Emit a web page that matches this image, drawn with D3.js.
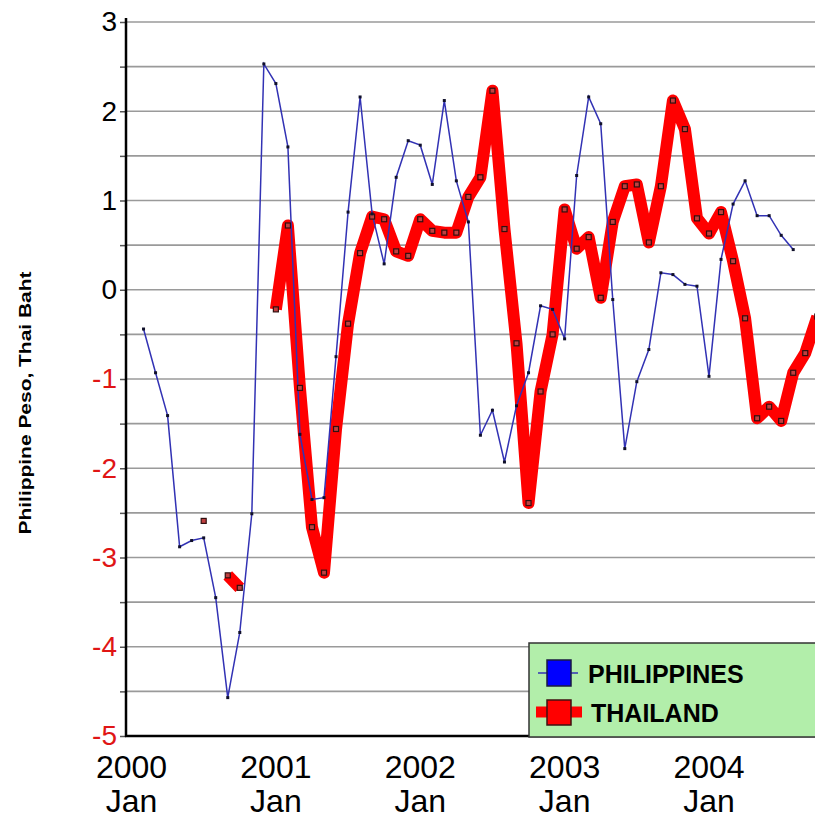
<!DOCTYPE html>
<html>
    <head>
        <meta charset="utf-8">
        <title>Philippine Peso, Thai Baht</title>
        <script src="https://d3js.org/d3.v7.min.js"></script>
        <style>
            body { margin: 0; background: #fff; }
            svg { display: block; font-family: 'Liberation Sans', Arial, sans-serif; }
        </style>
    </head>
    <body>
        <script type='text/javascript'>
            var w = 815;
            var h = 820;

            // months counted from 2000 Jan (index 0)
            var philippines = [null, -0.44, -0.93, -1.41, -2.88, -2.81, -2.78, -3.45, -4.57, -3.84,
                -2.51, 2.53, 2.31, 1.60, -1.62, -2.35, -2.33, -0.75, 0.87, 2.16,
                0.85, 0.29, 1.26, 1.67, 1.62, 1.18, 2.12, 1.22, 0.76, -1.63,
                -1.35, -1.93, -1.30, -0.93, -0.18, -0.22, -0.55, 1.28, 2.16, 1.86,
                -0.11, -1.78, -1.03, -0.67, 0.19, 0.17, 0.06, 0.04, -0.97, 0.34,
                0.96, 1.22, 0.83, 0.83, 0.61, 0.45, null, null];

            var thailand = [null, null, null, null, null, null, -2.59, null, -3.20, -3.34,
                null, null, -0.22, 0.72, -1.10, -2.66, -3.17, -1.56, -0.38, 0.41,
                0.82, 0.79, 0.43, 0.38, 0.79, 0.66, 0.64, 0.64, 1.04, 1.26,
                2.23, 0.68, -0.60, -2.39, -1.14, -0.50, 0.90, 0.46, 0.59, -0.09,
                0.76, 1.16, 1.18, 0.53, 1.16, 2.12, 1.80, 0.80, 0.63, 0.87,
                0.32, -0.32, -1.44, -1.31, -1.47, -0.93, -0.71, -0.30];

            var xTickMonths = [0, 12, 24, 36, 48];
            var xTickYears = ['2000', '2001', '2002', '2003', '2004'];
            var seriesNames = ['PHILIPPINES', 'THAILAND'];

            var plotLeft = 126, plotTop = 22, plotBottom = 736;

            //Create scales
            var xScale = d3.scaleLinear()
                            .domain([0, 48])
                            .range([131.5, 709]);

            var yScale = d3.scaleLinear()
                            .domain([-5, 3])
                            .range([plotBottom, plotTop]);

            var svg = d3.select('body')
                        .append('svg')
                        .attr('width', w)
                        .attr('height', h);

            // grid lines every half unit
            svg.append('g')
                .selectAll('line')
                .data(d3.range(-4.5, 3.01, 0.5))
                .enter()
                .append('line')
                .attr('x1', plotLeft)
                .attr('x2', w)
                .attr('y1', function(d) { return yScale(d); })
                .attr('y2', function(d) { return yScale(d); })
                .attr('stroke', '#9a9a9a')
                .attr('stroke-width', 1.6);

            // y axis, plain hyphen for negatives
            var yAxis = d3.axisLeft(yScale)
                            .tickValues(d3.range(-5, 3.01, 0.5))
                            .tickSize(6)
                            .tickPadding(3)
                            .tickFormat(function(d) { return d % 1 === 0 ? String(d) : ''; });

            var gy = svg.append('g')
                .attr('transform', 'translate(' + plotLeft + ',0)')
                .call(yAxis);
            gy.select('.domain').remove();
            gy.selectAll('line').attr('stroke', '#555').attr('stroke-width', 1.5);
            gy.selectAll('text')
                .attr('font-size', '28px')
                .attr('font-family', "'Liberation Sans', Arial, sans-serif")
                .attr('fill', function(d) { return d < 0 ? '#e01515' : '#000'; });

            // x labels, two lines each
            var gx = svg.append('g')
                .attr('font-size', '32px')
                .attr('text-anchor', 'middle')
                .attr('fill', '#000');
            gx.selectAll('text.yr')
                .data(xTickMonths)
                .enter()
                .append('text')
                .attr('class', 'yr')
                .attr('x', function(d) { return xScale(d); })
                .attr('y', 778)
                .text(function(d, i) { return xTickYears[i]; });
            gx.selectAll('text.mo')
                .data(xTickMonths)
                .enter()
                .append('text')
                .attr('class', 'mo')
                .attr('x', function(d) { return xScale(d); })
                .attr('y', 812)
                .text('Jan');

            // series
            var line = d3.line()
                .defined(function(d) { return d != null; })
                .x(function(d, i) { return xScale(i); })
                .y(function(d) { return yScale(d); });

            svg.append('path')
                .datum(thailand)
                .attr('d', line)
                .attr('fill', 'none')
                .attr('stroke', '#ff0000')
                .attr('stroke-width', 12)
                .attr('stroke-linejoin', 'round');

            svg.append('path')
                .datum(philippines)
                .attr('d', line)
                .attr('fill', 'none')
                .attr('stroke', '#3232b4')
                .attr('stroke-width', 1.5);

            var thPts = thailand.map(function(d, i) { return [i, d]; }).filter(function(p) { return p[1] != null; });
            var phPts = philippines.map(function(d, i) { return [i, d]; }).filter(function(p) { return p[1] != null; });

            svg.append('g')
                .selectAll('rect')
                .data(thPts)
                .enter()
                .append('rect')
                .attr('x', function(d) { return xScale(d[0]) - 2.5; })
                .attr('y', function(d) { return yScale(d[1]) - 2.5; })
                .attr('width', 5)
                .attr('height', 5)
                .attr('fill', '#c04040')
                .attr('stroke', '#301010')
                .attr('stroke-width', 1.2);

            svg.append('g')
                .selectAll('rect')
                .data(phPts)
                .enter()
                .append('rect')
                .attr('x', function(d) { return xScale(d[0]) - 1.5; })
                .attr('y', function(d) { return yScale(d[1]) - 1.5; })
                .attr('width', 3)
                .attr('height', 3)
                .attr('fill', '#10102a');

            // axis lines
            svg.append('line')
                .attr('x1', plotLeft).attr('x2', plotLeft)
                .attr('y1', plotTop - 4).attr('y2', plotBottom + 1)
                .attr('stroke', '#000').attr('stroke-width', 2.5);
            svg.append('line')
                .attr('x1', plotLeft - 1).attr('x2', w)
                .attr('y1', plotBottom).attr('y2', plotBottom)
                .attr('stroke', '#000').attr('stroke-width', 2.5);

            // legend
            var lg = svg.append('g');
            lg.append('rect')
                .attr('x', 529).attr('y', 643)
                .attr('width', 300).attr('height', 94)
                .attr('fill', '#b2eeaa')
                .attr('stroke', '#333')
                .attr('stroke-width', 1.5);

            lg.append('line')
                .attr('x1', 538).attr('x2', 578)
                .attr('y1', 673).attr('y2', 673)
                .attr('stroke', '#3232b4').attr('stroke-width', 1.5);
            lg.append('rect')
                .attr('x', 547).attr('y', 660)
                .attr('width', 24).attr('height', 26)
                .attr('fill', '#0000ff')
                .attr('stroke', '#1a1a40').attr('stroke-width', 1.5);

            lg.append('line')
                .attr('x1', 536).attr('x2', 582)
                .attr('y1', 712).attr('y2', 712)
                .attr('stroke', '#ff0000').attr('stroke-width', 11);
            lg.append('rect')
                .attr('x', 547).attr('y', 700)
                .attr('width', 24).attr('height', 25)
                .attr('fill', '#ff0000')
                .attr('stroke', '#401010').attr('stroke-width', 1.5);

            lg.selectAll('text.lab')
                .data(seriesNames)
                .enter()
                .append('text')
                .attr('class', 'lab')
                .attr('x', function(d, i) { return i === 0 ? 588 : 591; })
                .attr('y', function(d, i) { return i === 0 ? 683 : 722; })
                .attr('font-size', '25px')
                .attr('font-weight', 'bold')
                .attr('fill', '#000')
                .text(function(d) { return d; });

            // y title
            svg.append('text')
                .attr('transform', 'translate(31,403) rotate(-90)')
                .attr('text-anchor', 'middle')
                .attr('font-size', '17px')
                .attr('font-weight', 'bold')
                .attr('textLength', 263)
                .attr('lengthAdjust', 'spacingAndGlyphs')
                .text('Philippine Peso, Thai Baht');
        </script>
    </body>
</html>
